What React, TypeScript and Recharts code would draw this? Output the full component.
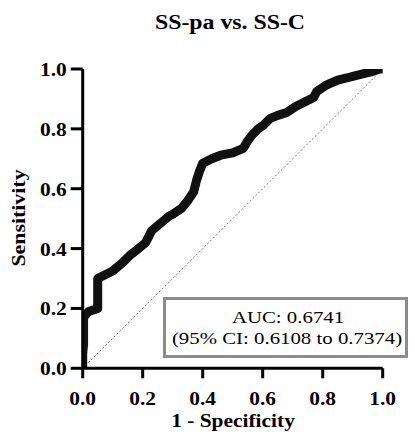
import React from "react";
import { LineChart, Line, XAxis, YAxis } from "recharts";

const fpr = [
  0, 0, 0.003, 0.003, 0.02, 0.05, 0.05, 0.07, 0.1, 0.135, 0.16, 0.18, 0.21, 0.23,
  0.26, 0.29, 0.3, 0.33, 0.35, 0.37, 0.38, 0.39, 0.4, 0.43, 0.46, 0.5, 0.535,
  0.55, 0.565, 0.585, 0.6, 0.625, 0.65, 0.68, 0.71, 0.74, 0.77, 0.78, 0.81,
  0.85, 0.88, 0.91, 0.94, 0.96, 0.99, 1,
];
const tpr = [
  0, 0.05, 0.08, 0.17, 0.19, 0.2, 0.3, 0.31, 0.325, 0.355, 0.38, 0.395, 0.42,
  0.46, 0.485, 0.51, 0.515, 0.535, 0.56, 0.59, 0.63, 0.66, 0.685, 0.7, 0.712,
  0.72, 0.735, 0.76, 0.78, 0.8, 0.81, 0.835, 0.845, 0.855, 0.875, 0.89, 0.905,
  0.925, 0.945, 0.963, 0.97, 0.978, 0.985, 0.99, 1, 1,
];
const chanceLine = [0, 1];
const axisTicks = [0, 0.2, 0.4, 0.6, 0.8, 1];

const title = "SS-pa vs. SS-C";
const xLabel = "1 - Specificity";
const yLabel = "Sensitivity";
const aucText = "AUC: 0.6741";
const ciText = "(95% CI: 0.6108 to 0.7374)";

const rocData = fpr.map((x, i) => ({ x, y: tpr[i] }));
const diagData = chanceLine.map((v) => ({ x: v, y: v }));

const FONT = '"Liberation Serif", "Times New Roman", serif';
const STRETCH = 1.19;

function XTick({ x, y, payload }: any) {
  return (
    <text
      transform={`translate(${x},${y + 24.5}) scale(${STRETCH},1)`}
      textAnchor="middle"
      fontFamily={FONT}
      fontWeight="bold"
      fontSize={18}
      fill="#000"
    >
      {payload.value.toFixed(1)}
    </text>
  );
}

function YTick({ x, y, payload }: any) {
  return (
    <text
      transform={`translate(${x},${y + 7}) scale(${STRETCH},1)`}
      textAnchor="end"
      fontFamily={FONT}
      fontWeight="bold"
      fontSize={18}
      fill="#000"
    >
      {payload.value.toFixed(1)}
    </text>
  );
}

const centered = (left: number, top: number, size: number, bold: boolean): React.CSSProperties => ({
  position: "absolute",
  left,
  top,
  fontFamily: FONT,
  fontSize: size,
  fontWeight: bold ? "bold" : "normal",
  lineHeight: 1,
  whiteSpace: "nowrap",
  transform: `translate(-50%, 0) scaleX(${STRETCH})`,
  color: "#000",
});

export default function App() {
  return (
    <div style={{ position: "absolute", left: 0, top: 0, width: 414, height: 446, background: "#fff" }}>
      <LineChart
        width={414}
        height={446}
        margin={{ top: 69, right: 31.3, bottom: 37.7, left: 22.7 }}
      >
        <XAxis
          dataKey="x"
          type="number"
          domain={[0, 1]}
          ticks={axisTicks}
          height={40}
          tickSize={10}
          tickMargin={2}
          axisLine={{ stroke: "#000", strokeWidth: 3 }}
          tickLine={{ stroke: "#000", strokeWidth: 3 }}
          tick={<XTick />}
          allowDataOverflow
        />
        <YAxis
          dataKey="y"
          type="number"
          domain={[0, 1]}
          ticks={axisTicks}
          width={60}
          tickSize={12}
          tickMargin={4}
          axisLine={{ stroke: "#000", strokeWidth: 3 }}
          tickLine={{ stroke: "#000", strokeWidth: 3 }}
          tick={<YTick />}
          allowDataOverflow
        />
        <Line
          data={diagData}
          dataKey="y"
          stroke="#777"
          strokeWidth={1}
          strokeDasharray="2 2"
          dot={false}
          isAnimationActive={false}
        />
        <Line
          data={rocData}
          dataKey="y"
          stroke="#111"
          strokeWidth={9}
          strokeLinecap="round"
          strokeLinejoin="round"
          dot={false}
          isAnimationActive={false}
        />
      </LineChart>

      <div style={centered(230.3, 11.8, 20, true)}>{title}</div>
      <div style={centered(233.3, 411.6, 18, true)}>{xLabel}</div>
      <div
        style={{
          position: "absolute",
          left: 17.8,
          top: 218.3,
          fontFamily: FONT,
          fontSize: 19,
          fontWeight: "bold",
          lineHeight: 1,
          whiteSpace: "nowrap",
          transform: "translate(-50%, -50%) rotate(-90deg) scaleX(1.15)",
        }}
      >
        {yLabel}
      </div>

      <div
        style={{
          position: "absolute",
          left: 163,
          top: 297,
          width: 245,
          height: 61,
          boxSizing: "border-box",
          border: "3px solid #8c8c8c",
          background: "#fff",
        }}
      />
      <div style={centered(287.5, 308.6, 17.5, false)}>{aucText}</div>
      <div style={centered(287, 330.3, 17.5, false)}>{ciText}</div>
    </div>
  );
}
